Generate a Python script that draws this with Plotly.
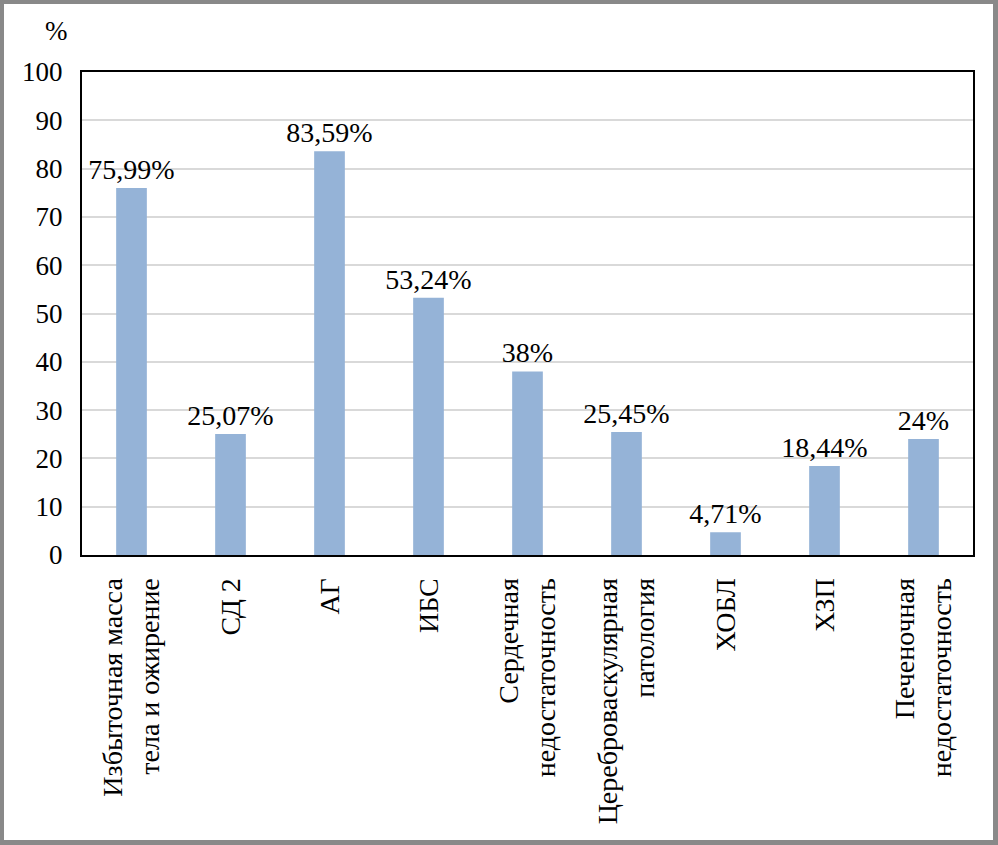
import plotly.graph_objects as go

categories = [
    "Избыточная масса<br>тела и ожирение",
    "СД 2",
    "АГ",
    "ИБС",
    "Сердечная<br>недостаточность",
    "Цереброваскулярная<br>патология",
    "ХОБЛ",
    "ХЗП",
    "Печеночная<br>недостаточность",
]
values = [75.99, 25.07, 83.59, 53.24, 38, 25.45, 4.71, 18.44, 24]
labels = [f"{v:g}".replace(".", ",") + "%" for v in values]
y_ticks = list(range(0, 101, 10))

W, H = 998, 845
L, R, T, B = 82, 25, 72, 290
pw, ph = W - L - R, H - T - B

def px(x):
    return (x - L) / pw

def py(y):
    return (H - B - y) / ph

FONT = "Times New Roman"

fig = go.Figure(
    go.Bar(
        x=categories,
        y=values,
        text=labels,
        textposition="outside",
        constraintext="none",
        textfont=dict(family=FONT, size=28, color="black"),
        marker=dict(color="#95b3d7", line=dict(width=0)),
        cliponaxis=False,
        showlegend=False,
    )
)

fig.update_layout(
    width=W,
    height=H,
    margin=dict(l=L, r=R, t=T, b=B, pad=0),
    paper_bgcolor="#898989",
    plot_bgcolor="white",
    bargap=0.69,
    uniformtext=dict(mode=False),
    font=dict(family=FONT, size=27, color="black"),
    shapes=[
        dict(
            type="rect", xref="paper", yref="paper",
            x0=px(4), x1=px(993), y0=py(840), y1=py(4),
            fillcolor="white", line=dict(width=0), layer="below",
        )
    ],
    annotations=[
        dict(
            text="%", xref="paper", yref="paper",
            x=px(56), y=py(31), showarrow=False,
            font=dict(family=FONT, size=27, color="black"),
            xanchor="center", yanchor="middle",
        )
    ],
)

fig.update_xaxes(
    tickangle=-90,
    showline=True, linecolor="black", linewidth=2, mirror=True,
    showgrid=False, ticks="",
    ticklabelstandoff=10,
    tickfont=dict(family=FONT, size=28, color="black"),
)
fig.update_yaxes(
    range=[0, 100],
    tickvals=y_ticks,
    showline=True, linecolor="black", linewidth=2, mirror=True,
    showgrid=True, gridcolor="#d9d9d9", gridwidth=2,
    zeroline=False, ticks="",
    ticklabelstandoff=12,
    tickfont=dict(family=FONT, size=27, color="black"),
)

fig.write_html(
    "out.html",
    config={"displayModeBar": False},
    post_script="document.body.style.margin='0';document.body.style.overflow='hidden';",
)
